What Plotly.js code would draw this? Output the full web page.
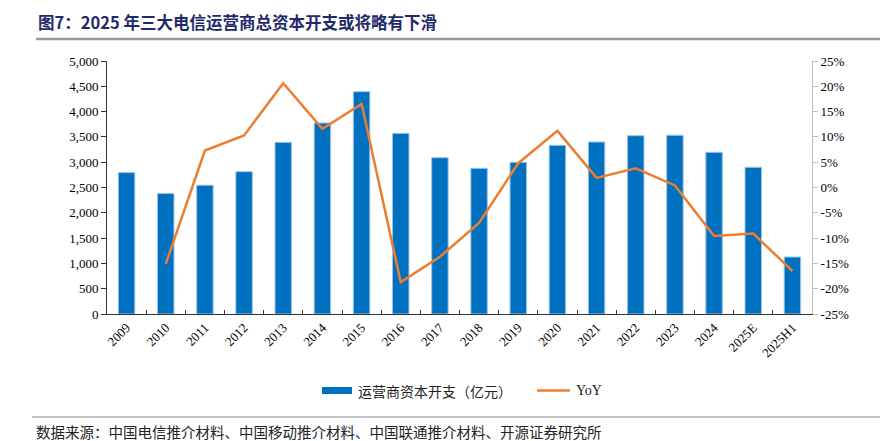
<!DOCTYPE html>
<html><head><meta charset="utf-8">
<script src="https://cdn.plot.ly/plotly-3.0.1.min.js"></script>
<style>html,body{margin:0;padding:0;background:#fff}#chart{width:880px;height:441px}</style>
</head><body><div id="chart"></div>
<script>
const categories = ['2009','2010','2011','2012','2013','2014','2015','2016','2017','2018','2019','2020','2021','2022','2023','2024','2025E','2025H1'];
const capex = [2795,2380,2545,2812,3392,3775,4394,3570,3090,2879,2998,3334,3399,3524,3532,3196,2899,1126];
const yoy = [null,-15.1,7.3,10.3,20.6,11.6,16.5,-18.7,-13.7,-7.0,4.8,11.2,1.9,3.8,0.4,-9.6,-9.1,-16.5];
const leftTicks = [0,500,1000,1500,2000,2500,3000,3500,4000,4500,5000];
const rightTicks = [-25,-20,-15,-10,-5,0,5,10,15,20,25];
const seriesNames = ['运营商资本开支（亿元）','YoY'];

const serif = "'Liberation Serif', 'Times New Roman', serif";
const cjk = "'Noto Sans CJK SC', sans-serif";

const traces = [
  {type:'bar', x:categories, y:capex, name:seriesNames[0], yaxis:'y',
   marker:{color:'#0070C0', line:{color:'#9DC3E6', width:1}}, width:0.42, showlegend:false},
  {type:'scatter', mode:'lines', x:categories, y:yoy, name:seriesNames[1], yaxis:'y2',
   line:{color:'#ED7D31', width:2.5}, connectgaps:false, showlegend:false}
];

const px = v => (v-107)/705;
const py = v => (314-v)/253;

const layout = {
  width:880, height:441,
  margin:{l:107, r:68, t:61, b:127},
  paper_bgcolor:'#fff', plot_bgcolor:'#fff',
  showlegend:false,
  xaxis:{type:'category', showline:true, linecolor:'#333', linewidth:1, ticks:'inside', ticklen:4,
    tickcolor:'#333', tickson:'boundaries', tickangle:-45, tickfont:{family:serif, size:13, color:'#000'},
    showgrid:false, zeroline:false, range:[-0.5,17.5]},
  yaxis:{range:[0,5000], tickvals:leftTicks, ticktext:leftTicks.map(v=>v.toLocaleString('en-US')),
    showline:true, linecolor:'#333', linewidth:1, ticks:'outside', ticklen:5, tickcolor:'#333',
    tickfont:{family:serif, size:13, color:'#000'}, showgrid:false, zeroline:false},
  yaxis2:{range:[-25,25], overlaying:'y', side:'right', tickvals:rightTicks, ticktext:rightTicks.map(v=>v+'%'),
    showline:true, linecolor:'#BFBFBF', linewidth:1, ticks:'outside', ticklen:5, tickcolor:'#BFBFBF',
    tickfont:{family:serif, size:13, color:'#000'}, showgrid:false, zeroline:false},
  shapes:[
    {type:'line', xref:'paper', yref:'paper', x0:px(36), x1:px(880), y0:py(39), y1:py(39),
     line:{color:'#999999', width:2.5}},
    {type:'line', xref:'paper', yref:'paper', x0:px(32), x1:px(880), y0:py(417), y1:py(417),
     line:{color:'#8C8C8C', width:1.2}},
    {type:'rect', xref:'paper', yref:'paper', x0:px(322), x1:px(352), y0:py(394), y1:py(387),
     fillcolor:'#0070C0', line:{width:0}},
    {type:'line', xref:'paper', yref:'paper', x0:px(537), x1:px(570), y0:py(390.5), y1:py(390.5),
     line:{color:'#ED7D31', width:2.5}}
  ],
  annotations:[
    {xref:'paper', yref:'paper', x:px(36), y:py(22), xanchor:'left', yanchor:'middle', showarrow:false,
     text:'<b>图7：2025 年三大电信运营商总资本开支或将略有下滑</b>', font:{family:cjk, size:16.5, color:'#1F2A6B'}},
    {xref:'paper', yref:'paper', x:px(34), y:py(431), xanchor:'left', yanchor:'middle', showarrow:false,
     text:'数据来源：中国电信推介材料、中国移动推介材料、中国联通推介材料、开源证券研究所', font:{family:cjk, size:14.5, color:'#222'}},
    {xref:'paper', yref:'paper', x:px(356), y:py(390.5), xanchor:'left', yanchor:'middle', showarrow:false,
     text:seriesNames[0], font:{family:cjk, size:14, color:'#222'}},
    {xref:'paper', yref:'paper', x:px(574), y:py(390.5), xanchor:'left', yanchor:'middle', showarrow:false,
     text:seriesNames[1], font:{family:serif, size:14, color:'#222'}}
  ]
};
Plotly.newPlot('chart', traces, layout, {displayModeBar:false, staticPlot:true});
</script></body></html>
